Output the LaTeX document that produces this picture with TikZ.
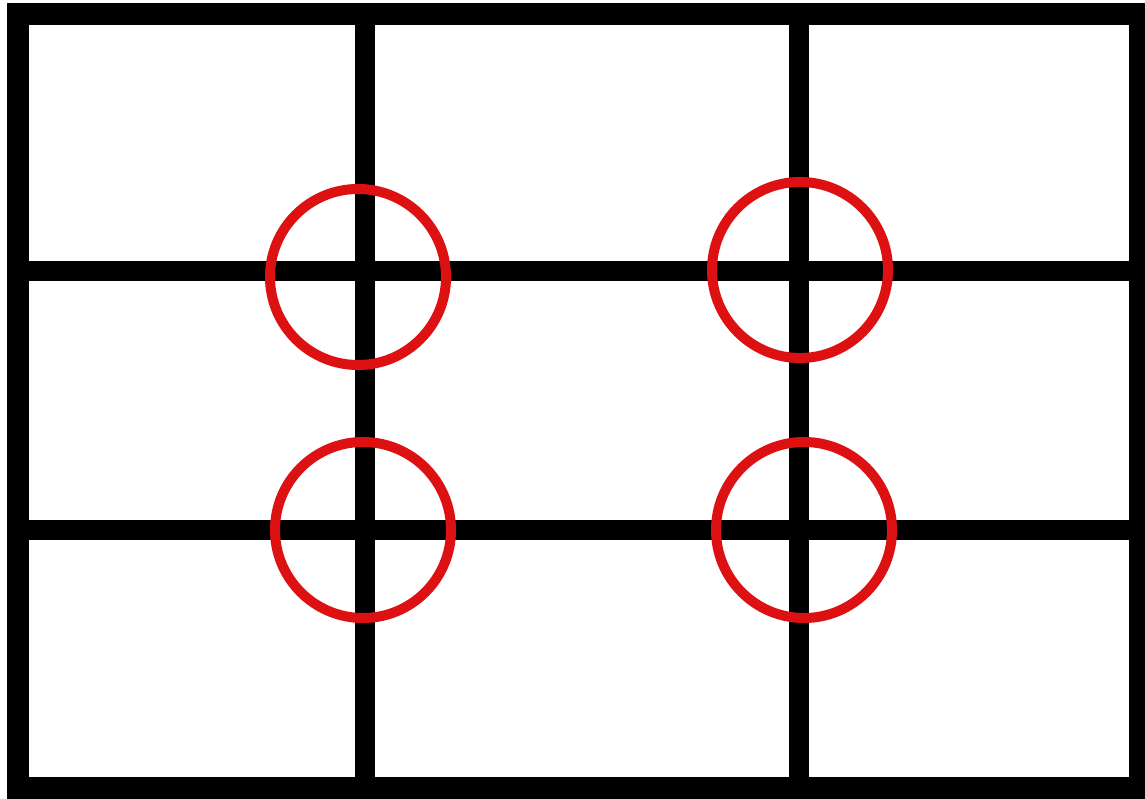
\documentclass[tikz,border=0pt]{standalone}
\usepackage{tikz}
\usetikzlibrary{positioning}
\usepackage{xcolor}
\definecolor{GridBlack}{HTML}{000000}
\definecolor{GridWhite}{HTML}{ffffff}
\definecolor{FocusRed}{HTML}{DD1111}
\tikzset{
    % Frame and grid lines
    frame/.style={
        draw=GridBlack,
        line width=15.6pt
    },
    thirdline/.style={
        draw=GridBlack,
        line width=14.2pt
    },
    % Circles on the crossings
    focus/.style={
        circle,
        draw=FocusRed,
        line width=7.1pt,
        minimum size=4.4cm,
        inner sep=0pt
    }
}
\begin{document}
\begin{tikzpicture}[x=0.025cm, y=-0.025cm]
    \useasboundingbox[fill=GridWhite] (0,0) rectangle (1145,799);

    % outer frame
    \coordinate (tl) at (18,14);
    \coordinate (br) at (1140,788);
    \draw[frame] (tl) rectangle (br);

    % thirds
    \coordinate (v1t) at (365,14);
    \coordinate (v1b) at (365,788);
    \coordinate (v2t) at (799,14);
    \coordinate (v2b) at (799,788);
    \coordinate (h1l) at (18,271);
    \coordinate (h1r) at (1140,271);
    \coordinate (h2l) at (18,530);
    \coordinate (h2r) at (1140,530);
    \draw[thirdline] (v1t) -- (v1b);
    \draw[thirdline] (v2t) -- (v2b);
    \draw[thirdline] (h1l) -- (h1r);
    \draw[thirdline] (h2l) -- (h2r);

    % crossings
    \node[focus] (c1) at (358,277) {};
    \node[focus] (c2) at (800,270) {};
    \node[focus] (c3) at (363,530) {};
    \node[focus] (c4) at (804,530) {};
\end{tikzpicture}
\end{document}
